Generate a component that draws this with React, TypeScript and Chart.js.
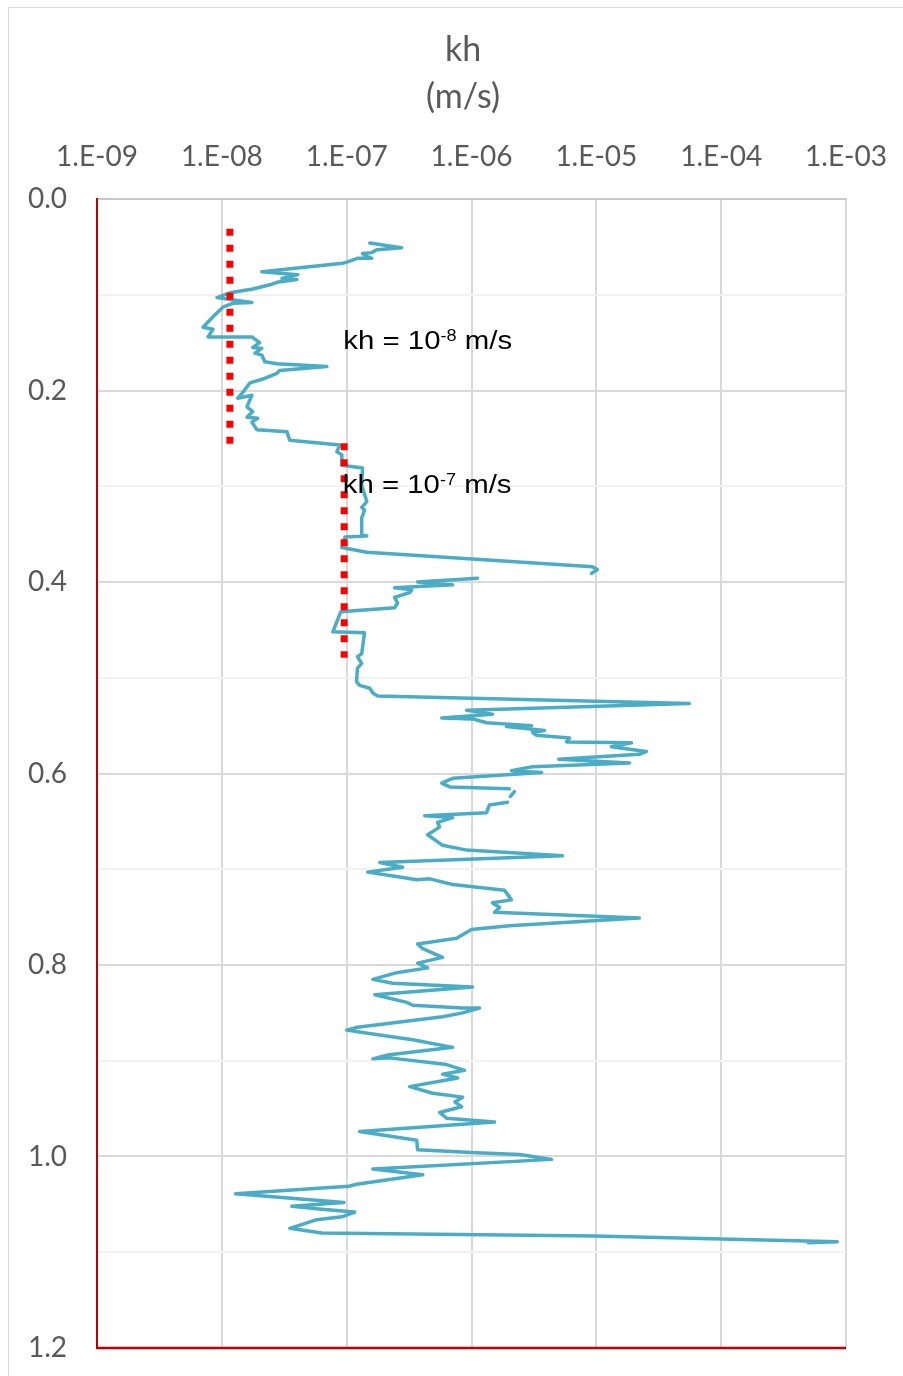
import React, { useEffect, useRef } from "react";
import { Chart, registerables } from "chart.js";

Chart.register(...registerables);

// Depth (m) of each reading, top to bottom; null = break in the record
const depth: (number | null)[] = [
  0.046, 0.049, 0.051, 0.053, 0.056, 0.057, 0.060, 0.062, 0.062, 0.066,
  0.067, 0.076, 0.079, 0.083, 0.084, 0.087, 0.089, 0.094, 0.098, 0.103,
  0.105, 0.108, 0.109, 0.113, 0.123, 0.134, 0.136, 0.144, 0.144, 0.150,
  0.155, 0.156, 0.161, 0.163, 0.170, 0.172, 0.175, 0.179, 0.182, 0.188,
  0.192, 0.203, 0.208, 0.205, 0.217, 0.222, 0.228, 0.229, 0.233, 0.241,
  0.243, 0.252, 0.257, 0.264, 0.267, 0.278, 0.281, 0.299, 0.316, 0.322,
  0.325, 0.333, 0.351, 0.352, 0.353, 0.364, 0.369, 0.376, 0.384, 0.387,
  0.391, null,
  0.396, 0.400, 0.403, 0.406, 0.408, 0.411, 0.416, 0.422, 0.427, 0.431,
  0.452, 0.453, 0.475, 0.478, 0.485, 0.490, 0.504, 0.508, 0.511, 0.516,
  0.519, 0.527, 0.534, 0.538, 0.542, 0.543, 0.547, 0.550, 0.551, 0.555,
  0.557, 0.560, 0.563, 0.567, 0.568, 0.572, 0.577, 0.580, 0.585, 0.589,
  0.593, 0.597, 0.599, 0.605, 0.610, 0.614, 0.616, null,
  0.624, 0.619, null,
  0.630, 0.633, 0.641, 0.644, 0.646, 0.651, 0.656, 0.664, 0.675, 0.680,
  0.686, 0.693, 0.698, 0.703, 0.708, 0.711, 0.710, 0.716, 0.722, 0.732,
  0.735, 0.740, 0.745, 0.751, 0.759, 0.763, 0.772, 0.778, 0.783, 0.792,
  0.798, 0.803, 0.808, 0.815, 0.819, 0.823, 0.831, 0.839, 0.842, 0.845,
  0.845, 0.850, 0.854, 0.865, 0.868, 0.873, 0.878, 0.886, 0.894, 0.898,
  0.897, 0.904, 0.910, 0.914, 0.918, 0.927, 0.934, 0.938, 0.943, 0.948,
  0.954, 0.960, 0.964, 0.974, 0.983, 0.993, 0.996, 0.998, 1.003, 1.013,
  1.019, 1.029, 1.031, 1.039, 1.048, 1.052, 1.055, 1.058, 1.063, 1.066,
  1.075, 1.080, 1.083, 1.089, 1.090,
];

// Horizontal hydraulic conductivity kh (m/s) at each depth
const kh: (number | null)[] = [
  1.53e-7, 2.21e-7, 2.76e-7, 1.74e-7, 1.59e-7, 1.34e-7, 1.45e-7, 1.59e-7, 1.22e-7, 1.0e-7,
  9.3e-8, 2.09e-8, 4.07e-8, 3.03e-8, 3.99e-8, 2.76e-8, 2.52e-8, 1.77e-8, 1.16e-8, 9.15e-9,
  1.16e-8, 1.74e-8, 1.22e-8, 1.02e-8, 8.5e-9, 7.07e-9, 8.5e-9, 7.75e-9, 1.74e-8, 2.01e-8,
  1.77e-8, 2.09e-8, 1.84e-8, 2.09e-8, 2.21e-8, 2.76e-8, 6.93e-8, 2.92e-8, 2.76e-8, 2.13e-8,
  1.68e-8, 1.45e-8, 1.34e-8, 1.74e-8, 1.59e-8, 1.77e-8, 1.59e-8, 1.94e-8, 1.74e-8, 1.91e-8,
  3.32e-8, 3.5e-8, 8.8e-8, 8.34e-8, 9.15e-8, 9.15e-8, 1.34e-7, 1.32e-7, 1.45e-7, 1.32e-7,
  1.39e-7, 1.32e-7, 1.32e-7, 1.45e-7, 9.7e-8, 9.15e-8, 1.45e-7, 1.02e-6, 9.3e-6, 1.02e-5,
  9.15e-6, null,
  1.12e-6, 3.7e-7, 7.07e-7, 2.42e-7, 3.32e-7, 3.2e-7, 2.42e-7, 2.56e-7, 2.42e-7, 8.98e-8,
  7.75e-8, 1.39e-7, 1.32e-7, 1.22e-7, 1.32e-7, 1.22e-7, 1.2e-7, 1.27e-7, 1.53e-7, 1.62e-7,
  1.77e-7, 5.55e-5, 9.15e-7, 1.47e-6, 5.77e-7, 1.02e-6, 1.32e-6, 3.03e-6, 1.91e-6, 3.85e-6,
  3.08e-6, 3.32e-6, 6.1e-6, 5.77e-6, 1.91e-5, 1.32e-5, 2.52e-5, 2.21e-5, 5.0e-6, 1.84e-5,
  3.08e-6, 2.09e-6, 3.64e-6, 7.07e-7, 5.77e-7, 6.7e-7, 2.01e-6, null,
  2.05e-6, 2.21e-6, null,
  1.94e-6, 1.39e-6, 1.32e-6, 4.22e-7, 7.07e-7, 5.35e-7, 5.55e-7, 4.45e-7, 5.87e-7, 9.15e-7,
  5.35e-6, 1.84e-7, 2.81e-7, 1.47e-7, 2.66e-7, 3.64e-7, 4.62e-7, 7.07e-7, 1.84e-6, 2.09e-6,
  1.47e-6, 1.68e-6, 1.53e-6, 2.21e-5, 2.01e-6, 1.0e-6, 7.6e-7, 3.7e-7, 4.07e-7, 5.87e-7,
  3.7e-7, 4.45e-7, 2.52e-7, 1.62e-7, 2.34e-7, 1.02e-6, 1.68e-7, 3.03e-7, 3.38e-7, 8.5e-7,
  1.16e-6, 8.5e-7, 5.87e-7, 1.22e-7, 1.0e-7, 1.84e-7, 3.38e-7, 7.07e-7, 2.13e-7, 1.62e-7,
  2.21e-7, 6.32e-7, 8.8e-7, 5.87e-7, 7.75e-7, 3.2e-7, 4.9e-7, 8.5e-7, 7.35e-7, 8.34e-7,
  5.55e-7, 6.32e-7, 1.53e-6, 1.27e-7, 3.64e-7, 3.7e-7, 1.1e-6, 2.42e-6, 4.38e-6, 1.62e-7,
  4.07e-7, 1.2e-7, 1.04e-7, 1.29e-8, 9.5e-8, 3.64e-8, 6.32e-8, 1.16e-7, 9.15e-8, 5.77e-8,
  3.5e-8, 6.32e-8, 9.8e-6, 8.5e-4, 4.98e-4,
];

// Axis ticks
const xTickValues = [1e-9, 1e-8, 1e-7, 1e-6, 1e-5, 1e-4, 1e-3];
const xTickLabels = ["1.E-09", "1.E-08", "1.E-07", "1.E-06", "1.E-05", "1.E-04", "1.E-03"];
const yTickLabels = ["0.0", "0.2", "0.4", "0.6", "0.8", "1.0", "1.2"];
const axisTitle = ["kh", "(m/s)"];

// Reference lines (red dotted)
const ref8Kh = [1.16e-8, 1.16e-8];
const ref8Depth = [0.031, 0.256];
const ref7Kh = [9.55e-8, 9.55e-8];
const ref7Depth = [0.255, 0.479];

// Reference labels
const labelMain = ["kh = 10", "kh = 10"];
const labelSup = ["-8", "-7"];
const labelTail = [" m/s", " m/s"];
const labelKh = [9.4e-8, 9.3e-8];
const labelDepth = [0.157, 0.307];

const refLabelsPlugin = {
  id: "refLabels",
  afterDatasetsDraw(chart: any) {
    const { ctx } = chart;
    const xs = chart.scales.x;
    const ys = chart.scales.y;
    const mainFont = '26px "Liberation Sans", Arial, sans-serif';
    const supFont = '16px "Liberation Sans", Arial, sans-serif';
    ctx.save();
    ctx.fillStyle = "#000000";
    ctx.textBaseline = "alphabetic";
    ctx.textAlign = "left";
    labelMain.forEach((t, i) => {
      const px = xs.getPixelForValue(labelKh[i]);
      const py = ys.getPixelForValue(labelDepth[i]);
      ctx.save();
      ctx.translate(px, py);
      ctx.scale(1.13, 1);
      let cx = 0;
      ctx.font = mainFont;
      ctx.fillText(t, cx, 0);
      cx += ctx.measureText(t).width;
      ctx.font = supFont;
      ctx.fillText(labelSup[i], cx, -8);
      cx += ctx.measureText(labelSup[i]).width;
      ctx.font = mainFont;
      ctx.fillText(labelTail[i], cx, 0);
      ctx.restore();
    });
    ctx.restore();
  },
};

const bottomAxisPlugin = {
  id: "bottomAxis",
  afterDatasetsDraw(chart: any) {
    const { ctx, chartArea: a } = chart;
    ctx.save();
    ctx.strokeStyle = "#c00000";
    ctx.lineWidth = 2.5;
    ctx.beginPath();
    ctx.moveTo(a.left - 1, a.bottom);
    ctx.lineTo(a.right, a.bottom);
    ctx.stroke();
    ctx.restore();
  },
};

export default function App() {
  const ref = useRef<HTMLCanvasElement>(null);

  useEffect(() => {
    if (!ref.current) return;
    Chart.defaults.font.family = "Lato, 'Open Sans', sans-serif";
    const profile = depth.map((d, i) => ({ x: kh[i], y: d }));
    const chart = new Chart(ref.current, {
      type: "line",
      data: {
        datasets: [
          {
            label: "kh",
            data: profile as any,
            borderColor: "#4bacc6",
            backgroundColor: "#4bacc6",
            borderWidth: 3.5,
            pointRadius: 0,
            tension: 0,
            spanGaps: false,
            fill: false,
            borderJoinStyle: "round",
            borderCapStyle: "round",
            order: 1,
          },
          {
            label: "ref8",
            data: ref8Kh.map((k, i) => ({ x: k, y: ref8Depth[i] })) as any,
            borderColor: "#ff0000",
            borderWidth: 7,
            borderDash: [7, 9],
            pointRadius: 0,
            fill: false,
            order: 0,
          },
          {
            label: "ref7",
            data: ref7Kh.map((k, i) => ({ x: k, y: ref7Depth[i] })) as any,
            borderColor: "#ff0000",
            borderWidth: 7,
            borderDash: [7, 9],
            pointRadius: 0,
            fill: false,
            order: 0,
          },
        ],
      },
      options: {
        animation: false,
        responsive: false,
        maintainAspectRatio: false,
        layout: { autoPadding: false, padding: { top: 8, left: 23, right: 0, bottom: 28 } },
        plugins: {
          legend: { display: false },
          tooltip: { enabled: false },
          title: {
            display: true,
            text: axisTitle,
            color: "#595959",
            font: { family: "Lato", size: 34, weight: "normal", lineHeight: "47px" },
            padding: { top: 18.5, bottom: 0 },
          },
        },
        scales: {
          x: {
            type: "logarithmic",
            position: "top",
            min: 1e-9,
            max: 1e-3,
            afterBuildTicks: (s: any) => {
              s.ticks = xTickValues.map((v) => ({ value: v }));
            },
            afterFit: (s: any) => {
              s.height = 78.5;
              s.paddingLeft = 0;
              s.paddingRight = 0;
              s.paddingTop = 0;
              s.paddingBottom = 0;
            },
            ticks: {
              callback: (_v: any, i: number) => xTickLabels[i],
              color: "#595959",
              font: { size: 28 },
              padding: 25,
              maxRotation: 0,
              autoSkip: false,
            },
            grid: { color: "#d9d9d9", lineWidth: 2, drawTicks: false },
            border: { display: true, color: "#c8c8c8", width: 2 },
          },
          y: {
            type: "linear",
            position: "left",
            reverse: true,
            min: 0,
            max: 1.2,
            afterFit: (s: any) => {
              s.width = 74;
              s.paddingLeft = 0;
              s.paddingRight = 0;
              s.paddingTop = 0;
              s.paddingBottom = 0;
            },
            ticks: {
              stepSize: 0.1,
              autoSkip: false,
              callback: (v: any) => {
                const k = Math.round(Number(v) * 10);
                return k % 2 === 0 ? yTickLabels[k / 2] : "";
              },
              color: "#595959",
              font: { size: 28 },
              padding: 30,
            },
            grid: {
              color: (c: any) =>
                c.tick && Math.round(c.tick.value * 10) % 2 === 0 ? "#d9d9d9" : "#f2f2f2",
              lineWidth: 2,
              drawTicks: false,
            },
            border: { color: "#c00000", width: 2 },
          },
          yRight: {
            type: "linear",
            position: "right",
            display: true,
            afterFit: (s: any) => {
              s.width = 57;
              s.paddingLeft = 0;
              s.paddingRight = 0;
              s.paddingTop = 0;
              s.paddingBottom = 0;
            },
            ticks: { display: false },
            grid: { display: false, drawTicks: false },
            border: { display: false },
          },
        },
      } as any,
      plugins: [bottomAxisPlugin, refLabelsPlugin],
    });
    return () => chart.destroy();
  }, []);

  return (
    <div
      style={{
        position: "absolute",
        left: 0,
        top: 0,
        width: 903,
        height: 1376,
        overflow: "hidden",
        background: "#ffffff",
      }}
    >
      <canvas
        ref={ref}
        width={903}
        height={1376}
        style={{ position: "absolute", left: 0, top: 0, width: 903, height: 1376 }}
      />
      <div
        style={{
          position: "absolute",
          left: 8,
          top: 7,
          width: 1000,
          height: 1500,
          border: "1px solid #d9d9d9",
          pointerEvents: "none",
        }}
      />
    </div>
  );
}
